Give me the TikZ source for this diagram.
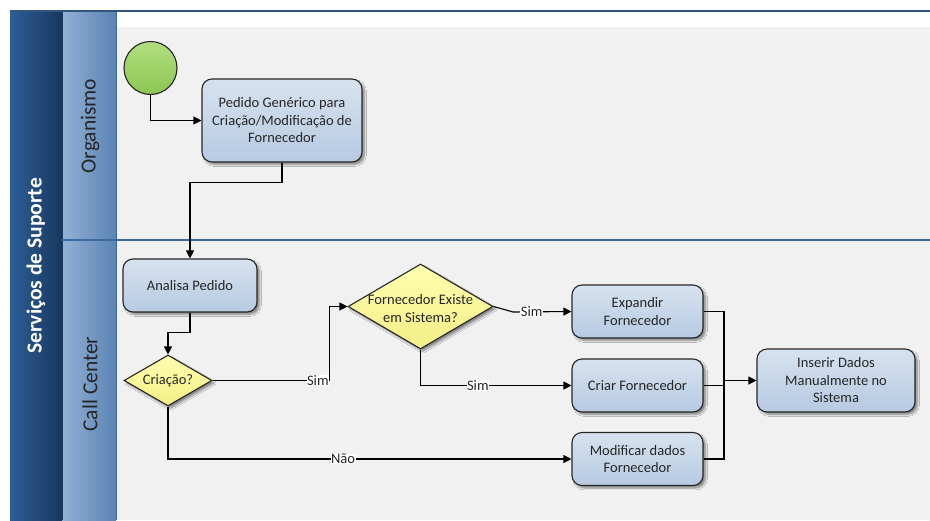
\documentclass[tikz,border=0pt]{standalone}
\usepackage{fontspec}
\setmainfont{Carlito}
\usetikzlibrary{shapes.geometric,arrows.meta,shadows.blur}

\definecolor{poolL}{HTML}{2D5E96}
\definecolor{poolR}{HTML}{19375F}
\definecolor{laneL}{HTML}{93B1D4}
\definecolor{laneR}{HTML}{5A83B4}
\definecolor{laneLine}{HTML}{3D6A9E}
\definecolor{canvas}{HTML}{F1F1F1}
\definecolor{taskTop}{HTML}{D7E2EF}
\definecolor{taskBot}{HTML}{B6CAE2}
\definecolor{gateTop}{HTML}{FFFFB0}
\definecolor{gateBot}{HTML}{F3EE86}
\definecolor{startTop}{HTML}{B2DE7E}
\definecolor{startBot}{HTML}{8CC653}
\definecolor{ink}{HTML}{262626}

\tikzset{
  x=1pt, y=-1pt,
  basefont/.style={font=\fontsize{14.5}{17.5}\selectfont, text=ink},
  task/.style={basefont, draw=black!85, line width=1.1pt, rounded corners=10pt,
    top color=taskTop, bottom color=taskBot, align=center, inner sep=2pt,
    blur shadow={shadow xshift=2.5pt, shadow yshift=-2.5pt, shadow blur steps=6, shadow opacity=45}},
  gate/.style={diamond, draw=black!85, line width=1.1pt, inner sep=0pt,
    top color=gateTop, bottom color=gateBot,
    blur shadow={shadow xshift=2.5pt, shadow yshift=-2.5pt, shadow blur steps=6, shadow opacity=45}},
  gatetext/.style={basefont, align=center, inner sep=0pt},
  startev/.style={circle, draw=black!85, line width=1.1pt, minimum size=53pt,
    top color=startTop, bottom color=startBot, inner sep=0pt},
  flow/.style={draw=black, line width=1.1pt, -{Triangle[length=8pt,width=8pt]}},
  link/.style={draw=black, line width=1.1pt},
  lbl/.style={basefont, fill=white, inner sep=0.5pt},
  lanetitle/.style={font=\fontsize{21.5}{24}\selectfont, text=ink, rotate=90},
  pooltitle/.style={font=\fontsize{21.5}{24}\selectfont\bfseries, text=white, rotate=90},
}

\begin{document}
\begin{tikzpicture}
\useasboundingbox (0,0) rectangle (930,520);
\fill[white] (0,0) rectangle (930,520);

% drawing area of the lanes
\fill[canvas] (116,27) rectangle (930,520);

% pool header band
\shade[left color=poolL, right color=poolR] (10,11) rectangle (62,520);
% lane header bands
\shade[left color=laneL, right color=laneR] (62,11) rectangle (116,240);
\shade[left color=laneL, right color=laneR] (62,240) rectangle (116,520);
\draw[laneLine, line width=0.8pt] (116,11) -- (116,520);
\draw[poolR, line width=0.8pt] (62,11) -- (62,520);

% pool top border and lane divider
\draw[laneLine!80!black, line width=2pt] (10,11) -- (930,11);
\draw[laneLine, line width=1.2pt] (62,240) -- (930,240);

% titles
\node[pooltitle] (pool) at (36,266) {Serviços de Suporte};
\node[lanetitle] (laneA) at (90,126) {Organismo};
\node[lanetitle] (laneB) at (90,384) {Call Center};

% flow objects
\node[startev] (start) at (150.5,68) {};
\node[task, minimum width=160pt, minimum height=83pt] (pedido) at (282,120.5)
  {Pedido Genérico para\\Criação/Modificação de\\Fornecedor};
\node[task, minimum width=134pt, minimum height=53pt] (analisa) at (190,285.5) {Analisa Pedido};
\node[gate, minimum width=88pt, minimum height=51pt] (criacao) at (168,380.5) {};
\node[gatetext] (criacaoT) at (criacao) {Criação?};
\node[gate, minimum width=145pt, minimum height=85pt] (existe) at (420.5,306.5) {};
\node[gatetext] (existeT) at (420.5,308.5) {Fornecedor Existe\\em Sistema?};
\node[task, minimum width=131pt, minimum height=53pt] (expandir) at (637.5,311.5) {Expandir\\Fornecedor};
\node[task, minimum width=131pt, minimum height=53pt] (criar) at (637.5,385.5) {Criar Fornecedor};
\node[task, minimum width=131pt, minimum height=53pt] (modificar) at (637.5,459) {Modificar dados\\Fornecedor};
\node[task, minimum width=158pt, minimum height=63pt] (inserir) at (836,380.5)
  {Inserir Dados\\Manualmente no\\Sistema};

% connectors
\draw[flow] (start.south) |- (pedido.west);
\draw[flow] (pedido.south) -- ++(0,20) -| (analisa.north);
\draw[flow] (analisa.south) -- ++(0,20) -| (criacao.north);
\draw[flow] (criacao.east) -- node[lbl, pos=0.9] {Sim} ++(117,0) |- (existe.west);
\coordinate (kink) at (513,312);
\draw[flow] (existe.east) -- (kink) -- node[lbl, pos=0.32] {Sim} (expandir.west);
\draw[flow] (existe.south) |- node[lbl, pos=0.69] {Sim} (criar.west);
\draw[flow] (criacao.south) |- node[lbl, pos=0.717] {Não} (modificar.west);

\coordinate (merge) at (724,380.5);
\draw[link] (expandir.east) -| (merge);
\draw[link] (modificar.east) -| (merge);
\draw[link] (criar.east) -- (criar.east -| merge);
\draw[flow] (merge) -- (inserir.west);
\end{tikzpicture}
\end{document}
